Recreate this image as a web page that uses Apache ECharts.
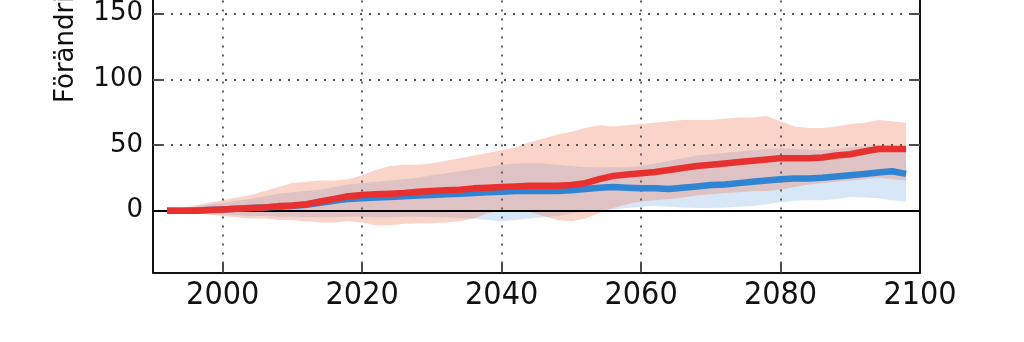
<!DOCTYPE html>
<html>
<head>
<meta charset="utf-8">
<script src="https://cdn.jsdelivr.net/npm/echarts@6/dist/echarts.min.js"></script>
<style>
  html, body { margin: 0; padding: 0; background: #fff; }
  #chart { width: 1024px; height: 342px; }
</style>
</head>
<body>
<div id="chart"></div>
<script>
// Years of the smoothed projections (every second year)
const years = [
  1992, 1994, 1996, 1998, 2000, 2002, 2004, 2006, 2008, 2010,
  2012, 2014, 2016, 2018, 2020, 2022, 2024, 2026, 2028, 2030,
  2032, 2034, 2036, 2038, 2040, 2042, 2044, 2046, 2048, 2050,
  2052, 2054, 2056, 2058, 2060, 2062, 2064, 2066, 2068, 2070,
  2072, 2074, 2076, 2078, 2080, 2082, 2084, 2086, 2088, 2090,
  2092, 2094, 2096, 2098
];

// High scenario (red): median and spread
const redMedian = [
  0, 0, 0, 0.5, 1, 1.5, 2, 2.5, 3.5, 4,
  5, 7, 9, 11, 12, 12.5, 13, 13.5, 14.5, 15,
  15.5, 16, 17, 17.5, 18, 18.5, 19, 19, 19, 19.5,
  21, 24, 26.5, 27.5, 28.5, 29.5, 31, 32.5, 34, 35,
  36, 37, 38, 39, 40, 40, 40, 40.5, 42, 43,
  45, 47, 47, 47
];
const redUpper = [
  0.5, 2, 4, 6, 8, 10, 12, 15, 18, 21,
  22, 23, 23, 24, 27, 31, 34, 35, 35, 36,
  38, 40, 42, 44, 46, 48, 52, 55, 58, 60,
  63, 65, 64, 65, 66, 67, 68, 69, 69, 69,
  70, 71, 71, 72, 68, 64, 63, 63, 64, 66,
  67, 69, 68, 67
];
const redLower = [
  -0.5, -1, -2, -3, -4, -5, -6, -6, -7, -7,
  -8, -9, -9, -8, -9, -11, -11, -10, -9.5, -9.5,
  -9, -8, -6, -2, 0, 0, -1, -4, -7, -8,
  -6, -2, 2, 5, 7, 8, 9, 10, 11.5, 12.5,
  13.5, 14, 15, 15, 16, 18, 20, 21, 22, 23,
  24, 25, 24, 23
];

// Low scenario (blue): median and spread
const blueMedian = [
  0, 0, 0, 0.5, 1, 1.5, 2, 2.5, 3, 3.5,
  4.5, 6, 7.5, 9, 9.5, 10, 10.5, 11, 11.5, 12,
  12.5, 13, 13.5, 14, 14.5, 15, 15, 15, 15, 15.5,
  16.5, 17.5, 18, 17.5, 17, 17, 16.5, 17.5, 18.5, 19.5,
  20, 21, 22, 23, 24, 24.5, 24.5, 25, 26, 27,
  28, 29, 30, 28
];
const blueUpper = [
  0.5, 1.5, 3, 4.5, 6, 7.5, 9, 11, 13, 14,
  15, 16, 18, 20, 21, 22, 23, 24, 25, 27,
  28.5, 30, 31.5, 33, 35, 36, 36, 36, 35, 34,
  33, 33, 33, 33, 34, 36, 38, 40, 42, 43,
  44, 45, 46, 47, 47.5, 47, 46.5, 46, 47, 48,
  49, 50, 50, 48
];
const blueLower = [
  -0.5, -1, -1.5, -2, -3, -3.5, -4, -4, -4.5, -4.5,
  -5, -5, -5, -4.5, -4.5, -5, -5, -4.5, -4.5, -5,
  -5, -5.5, -6, -7, -8, -7, -6, -5, -4, -2,
  -1, 0, 1, 2, 3, 3.5, 3, 2.5, 2, 2,
  2.5, 3, 3.5, 5, 6.5, 7.5, 8, 8, 9, 10.5,
  10, 9.5, 8, 7
];

// Axis ticks
const xTicks = [2000, 2020, 2040, 2060, 2080, 2100];
const yTicks = [0, 50, 100, 150];
const xGrid = [2000, 2020, 2040, 2060, 2080];
const yGrid = [50, 100, 150];

const FONT = 'DejaVu Sans';
const FONT_NARROW = '"DejaVu Sans Condensed", "DejaVu Sans"';
const pairs = (xs, ys) => xs.map((x, i) => [x, ys[i]]);

// Spread band drawn as one closed polygon through the axis scales
function bandSeries(name, lower, upper, fill, z) {
  return {
    name: name,
    type: 'custom',
    z: z,
    silent: true,
    data: years.map((y, i) => [y, lower[i], upper[i]]),
    encode: { x: 0, y: [1, 2] },
    renderItem: function (params, api) {
      if (params.dataIndex !== 0) return null;
      const pts = [];
      for (let i = 0; i < years.length; i++) pts.push(api.coord([years[i], upper[i]]));
      for (let i = years.length - 1; i >= 0; i--) pts.push(api.coord([years[i], lower[i]]));
      return {
        type: 'polygon',
        shape: { points: pts },
        style: { fill: fill, stroke: null }
      };
    }
  };
}

const dotted = { color: '#555', width: 1.8, type: [2, 7] };
const Y_MIN = -47;
const Y_MAX = 160.3;

const chart = echarts.init(document.getElementById('chart'), null, { renderer: 'canvas' });
chart.setOption({
  animation: false,
  backgroundColor: '#ffffff',
  grid: { left: 153, right: 104, top: 0, bottom: 69.5, containLabel: false, outerBoundsMode: 'none' },
  xAxis: {
    type: 'value',
    min: 1990,
    max: 2100,
    axisLine: { show: true, onZero: false, lineStyle: { color: '#111', width: 2 } },
    axisTick: { show: true, inside: true, length: 10, customValues: xTicks, lineStyle: { color: '#111', width: 1.5 } },
    axisLabel: {
      customValues: xTicks, color: '#111', fontFamily: FONT_NARROW, fontSize: 32, margin: 7,
      formatter: v => String(v)
    },
    splitLine: { show: false }
  },
  yAxis: [
    {
      type: 'value',
      min: Y_MIN,
      max: Y_MAX,
      axisLine: { show: true, onZero: false, lineStyle: { color: '#111', width: 2 } },
      axisTick: { show: true, inside: true, length: 10, customValues: yTicks, lineStyle: { color: '#111', width: 1.5 } },
      axisLabel: { customValues: yTicks, color: '#111', fontFamily: FONT, fontSize: 26, margin: 10, formatter: v => String(v) },
      splitLine: { show: false }
    },
    {
      type: 'value',
      position: 'right',
      min: Y_MIN,
      max: Y_MAX,
      axisLine: { show: true, onZero: false, lineStyle: { color: '#111', width: 2 } },
      axisTick: { show: true, inside: true, length: 10, customValues: yTicks, lineStyle: { color: '#111', width: 1.5 } },
      axisLabel: { show: false },
      splitLine: { show: false }
    }
  ],
  graphic: [{
    type: 'text',
    x: 66,
    y: 103,
    rotation: Math.PI / 2,
    style: {
      text: 'Förändring (%)',
      fill: '#111',
      font: '26px "DejaVu Sans"',
      align: 'left',
      verticalAlign: 'middle'
    }
  }],
  series: [
    {
      name: 'grid',
      type: 'line',
      data: [],
      silent: true,
      z: 1,
      markLine: {
        silent: true,
        symbol: 'none',
        label: { show: false },
        lineStyle: dotted,
        data: xGrid.map(v => ({ xAxis: v })).concat(yGrid.map(v => ({ yAxis: v })))
      }
    },
    bandSeries('Låg spridning', blueLower, blueUpper, 'rgba(60,135,215,0.20)', 2),
    bandSeries('Hög spridning', redLower, redUpper, 'rgba(240,100,60,0.28)', 3),
    {
      name: 'zero',
      type: 'line',
      data: [],
      silent: true,
      z: 4,
      markLine: {
        silent: true,
        symbol: 'none',
        label: { show: false },
        lineStyle: { color: '#000', width: 2, type: 'solid' },
        data: [{ yAxis: 0 }]
      }
    },
    {
      name: 'Låg',
      type: 'line',
      z: 5,
      data: pairs(years, blueMedian),
      showSymbol: false,
      lineStyle: { color: '#2f84d4', width: 6.5 }
    },
    {
      name: 'Hög',
      type: 'line',
      z: 6,
      data: pairs(years, redMedian),
      showSymbol: false,
      lineStyle: { color: '#e8312f', width: 6.5 }
    }
  ]
});
</script>
</body>
</html>
